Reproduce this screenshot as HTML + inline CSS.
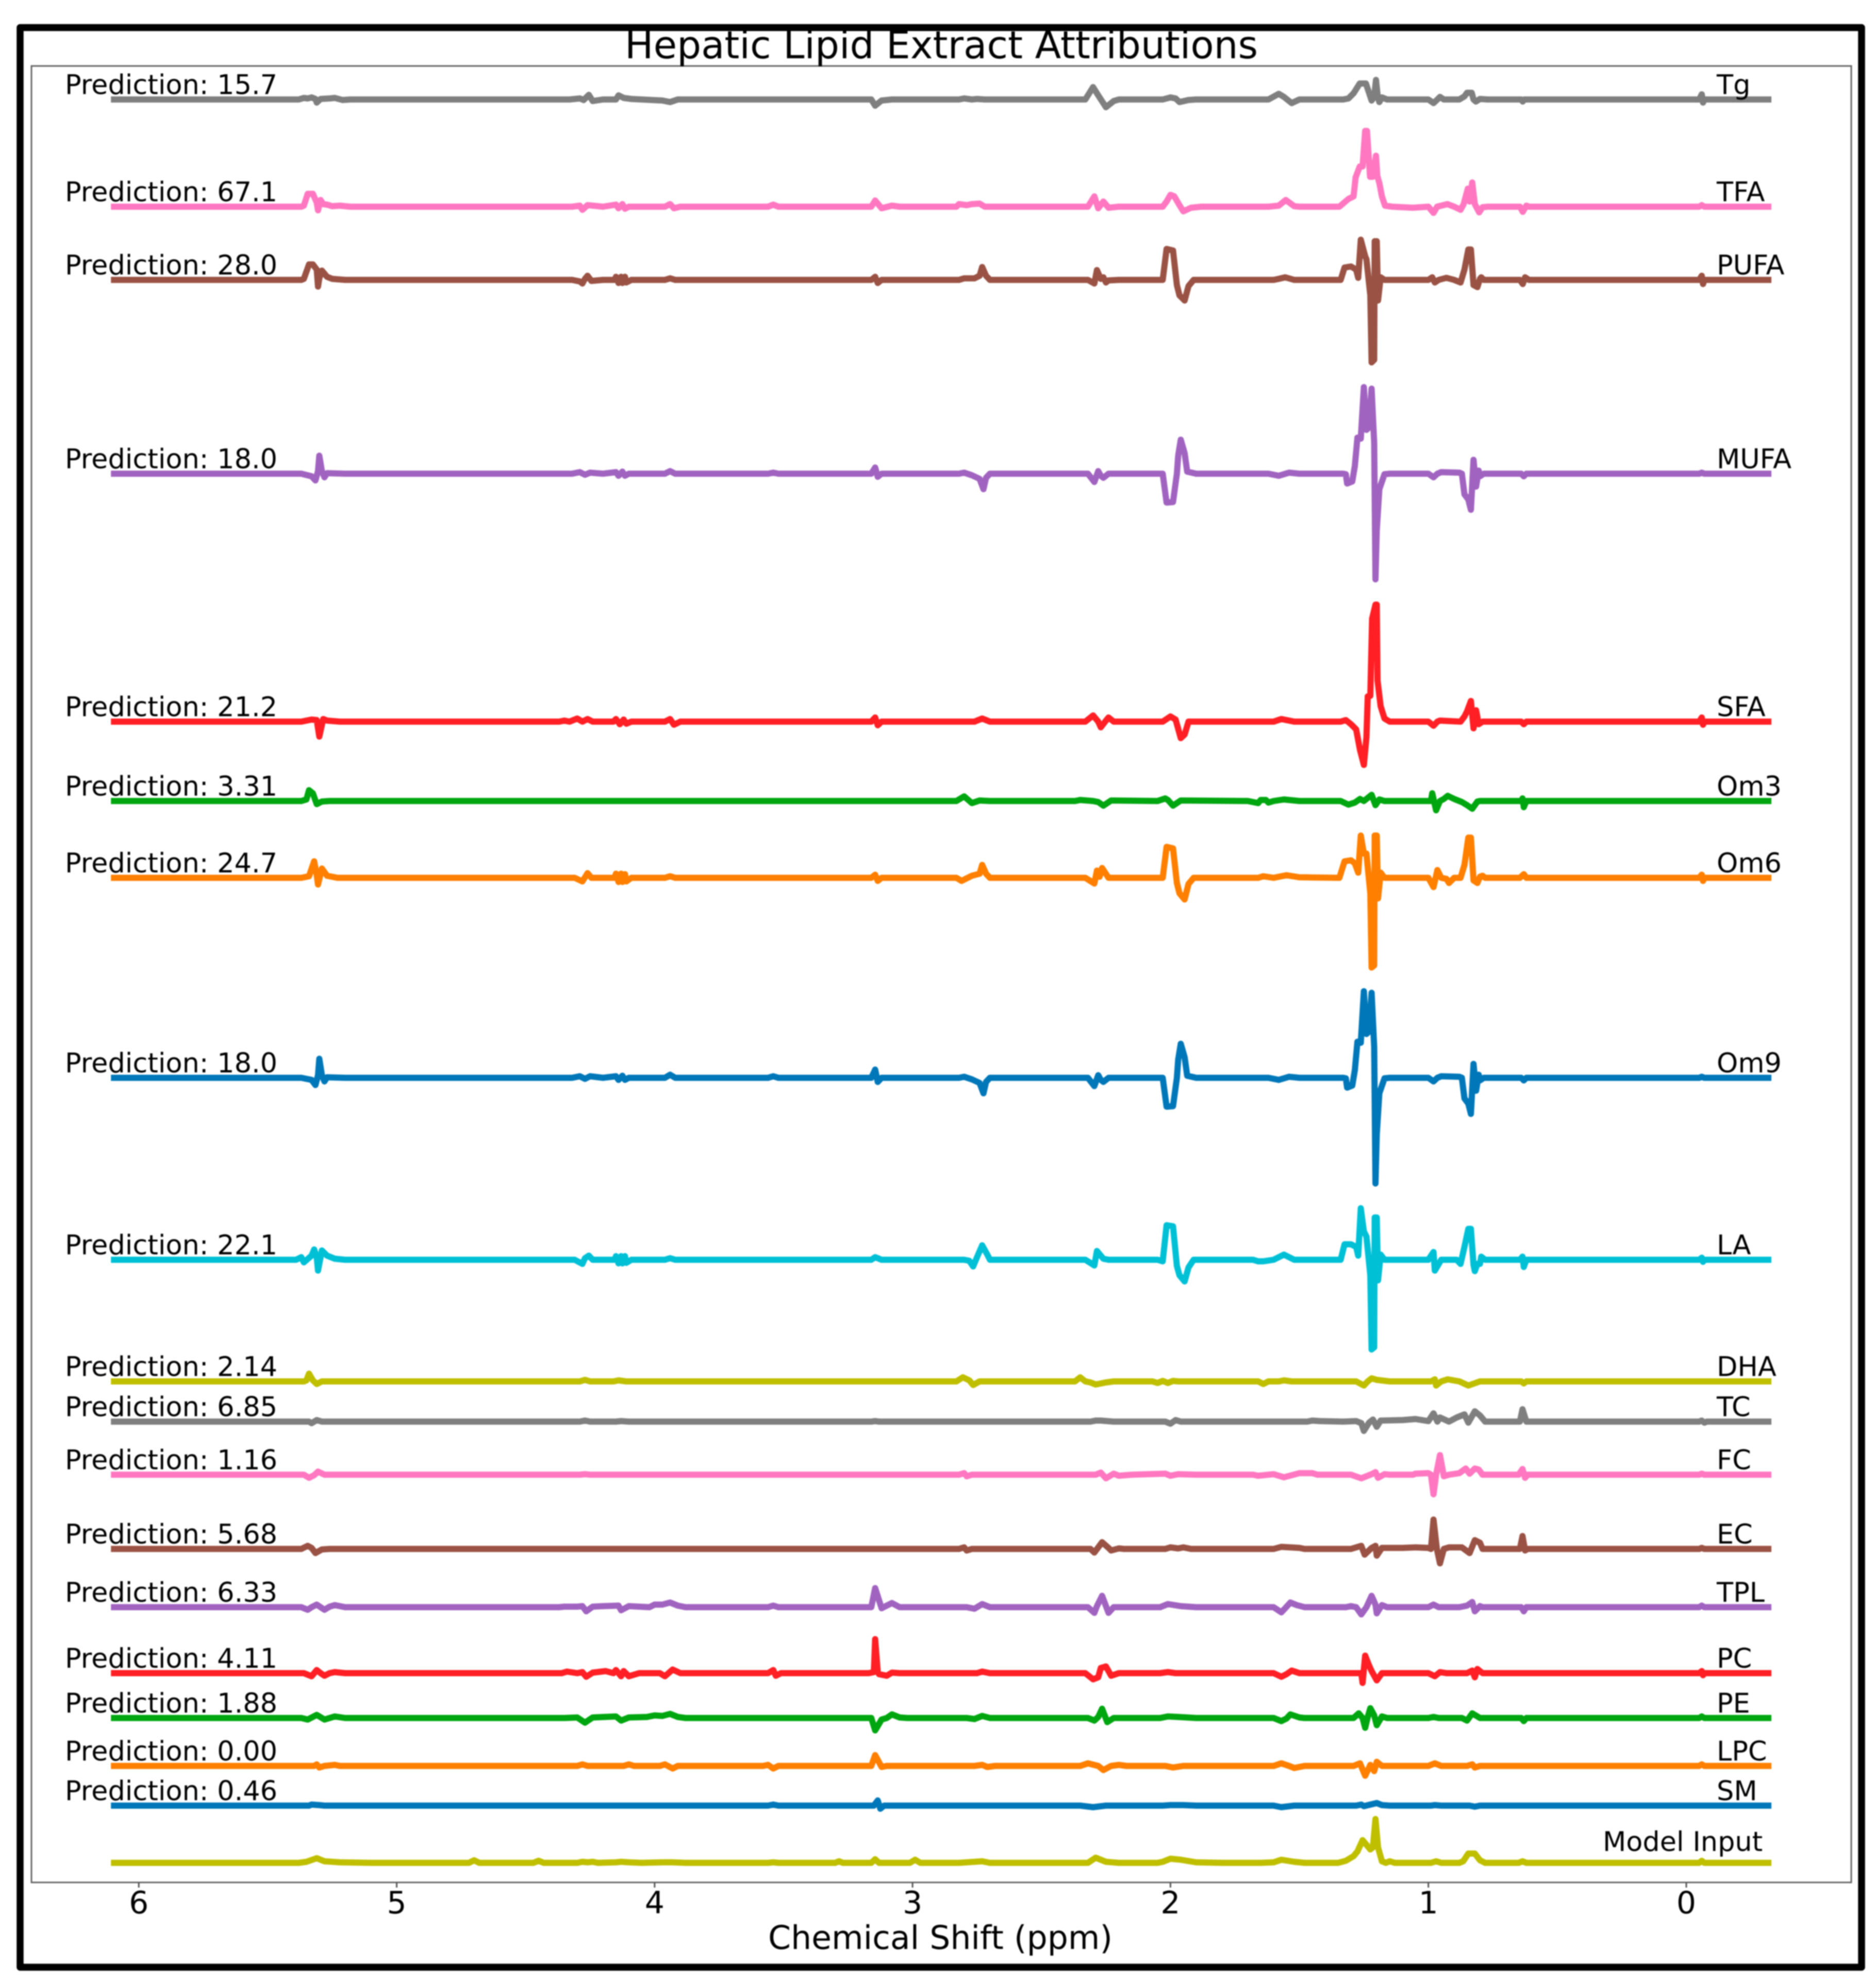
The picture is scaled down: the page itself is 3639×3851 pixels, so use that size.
<!DOCTYPE html>
<html lang="en">
<head>
<meta charset="utf-8">
<title>Hepatic Lipid Extract Attributions</title>
<style>
html,body{margin:0;padding:0;background:#fff;}
svg{display:block;filter:blur(1px);}
text{font-family:"DejaVu Sans","Liberation Sans",sans-serif;fill:#000;}
</style>
</head>
<body>
<svg id="chart" xmlns="http://www.w3.org/2000/svg" width="3639" height="3851" viewBox="0 0 3639 3851">
<rect x="0" y="0" width="3639" height="3851" fill="#ffffff"/>
<rect x="39" y="53.5" width="3572" height="3763" fill="none" stroke="#000" stroke-width="13.5" stroke-linejoin="round"/>
<rect x="61" y="128" width="3530" height="3524" fill="none" stroke="#666" stroke-width="3"/>
<g id="ticks"></g>
<g id="series"></g>
<g id="labels"></g>
<text x="1826" y="113" font-size="74" text-anchor="middle">Hepatic Lipid Extract Attributions</text>
<text x="1824" y="3781" font-size="63.2" text-anchor="middle">Chemical Shift (ppm)</text>
</svg>
<script>
const tickValues=[6,5,4,3,2,1,0];
const tickLabels=['6','5','4','3','2','1','0'];
const categories=['Tg','TFA','PUFA','MUFA','SFA','Om3','Om6','Om9','LA','DHA','TC','FC','EC','TPL','PC','PE','LPC','SM','Model Input'];
const predictions=['15.7','67.1','28.0','18.0','21.2','3.31','24.7','18.0','22.1','2.14','6.85','1.16','5.68','6.33','4.11','1.88','0.00','0.46',''];
const stackOffsets=[3459,3251,3109,2733,2252,2098,1949,1561,1208,972,894,791,647,534,406,319,226,149,38];
const seriesColors=['#7f7f7f','#ff77c0','#9a5244','#a163c0','#ff1f24','#00a60f','#ff7f00','#0077b8','#00c0d6','#bfbf00','#7f7f7f','#ff77c0','#9a5244','#a163c0','#ff1f24','#00a60f','#ff7f00','#0077b8','#bfbf00'];

const Tg=[[6.108,0],[5.38,0],[5.36,3],[5.345,2],[5.33,4],[5.315,1],[5.31,-6],[5.295,1],[5.26,2],[5.24,3],[5.21,-1],[5.18,0],[4.33,0],[4.29,2],[4.275,-1],[4.255,9],[4.24,-3],[4.2,0],[4.15,0],[4.14,8],[4.12,3],[4.09,1],[4.05,0],[3.97,-2],[3.94,-5],[3.91,0],[3.16,0],[3.145,-12],[3.12,-2],[3.08,0],[2.82,0],[2.8,2],[2.77,0],[2.75,1],[2.72,0],[2.33,0],[2.3,24],[2.28,8],[2.25,-15],[2.22,-3],[2.2,0],[2.03,0],[2,4],[1.98,2],[1.965,-5],[1.93,-1],[1.9,0],[1.62,0],[1.58,11],[1.56,5],[1.53,-7],[1.5,0],[1.33,0],[1.31,2],[1.29,12],[1.266,31],[1.242,31],[1.22,-2],[1.21,5],[1.203,38],[1.196,5],[1.19,-5],[1.18,4],[1.16,0],[1,0],[.98,-7],[.965,0],[.955,5],[.94,0],[.88,0],[.86,6],[.85,13],[.832,13],[.825,0],[.816,-4],[.8,1],[.77,0],[.64,0],[.634,-4],[.628,0],[-.05,0],[-.06,10],[-.065,-6],[-.07,0],[-.33,0]];
const TFA=[[6.108,0],[5.37,0],[5.36,2],[5.345,25],[5.325,25],[5.31,8],[5.305,-7],[5.295,13],[5.285,5],[5.27,4],[5.25,1],[5.22,2],[5.18,0],[4.32,0],[4.29,2],[4.28,-6],[4.26,3],[4.2,0],[4.15,4],[4.14,-3],[4.125,5],[4.115,-4],[4.1,0],[3.96,0],[3.94,5],[3.925,-3],[3.9,0],[3.56,0],[3.54,4],[3.52,0],[3.16,0],[3.145,12],[3.12,-3],[3.08,2],[3.05,0],[2.83,0],[2.82,5],[2.79,3],[2.77,5],[2.74,6],[2.72,0],[2.32,0],[2.295,20],[2.28,-3],[2.26,10],[2.24,-2],[2.2,0],[2.03,0],[2.015,10],[2,23],[1.985,20],[1.965,3],[1.95,-9],[1.92,-2],[1.88,0],[1.62,0],[1.58,2],[1.553,13],[1.52,1],[1.5,0],[1.345,0],[1.31,15],[1.29,20],[1.282,57],[1.266,78],[1.255,78],[1.245,147],[1.238,147],[1.226,58],[1.215,58],[1.203,99],[1.198,60],[1.19,46],[1.18,20],[1.168,2],[1.14,0],[1.06,-2],[1,0],[.98,-12],[.966,0],[.926,5],[.9,0],[.875,-6],[.863,5],[.847,35],[.84,10],[.83,47],[.82,5],[.803,-11],[.79,-1],[.77,0],[.645,0],[.634,-10],[.62,2],[.61,0],[-.05,0],[-.06,3],[-.07,0],[-.33,0]];
const PUFA=[[6.108,0],[5.37,0],[5.36,2],[5.34,30],[5.325,30],[5.31,20],[5.305,-13],[5.3,3],[5.29,18],[5.27,6],[5.25,2],[5.2,0],[4.32,0],[4.29,-3],[4.28,-7],[4.27,2],[4.26,8],[4.245,-2],[4.2,0],[4.155,0],[4.15,6],[4.14,-6],[4.13,6],[4.125,-6],[4.115,6],[4.11,-5],[4.09,0],[3.96,0],[3.94,3],[3.92,0],[3.16,0],[3.145,6],[3.135,-6],[3.12,0],[2.82,0],[2.8,3],[2.76,3],[2.74,8],[2.73,25],[2.715,8],[2.7,0],[2.32,0],[2.295,-7],[2.285,19],[2.27,2],[2.26,5],[2.25,-5],[2.24,-1],[2.2,0],[2.03,0],[2.015,60],[1.99,57],[1.975,-10],[1.965,-30],[1.945,-40],[1.93,-12],[1.91,0],[1.6,0],[1.58,2],[1.555,5],[1.52,0],[1.34,0],[1.325,24],[1.3,26],[1.28,20],[1.272,4],[1.262,78],[1.245,46],[1.24,40],[1.225,-30],[1.22,-160],[1.21,-155],[1.208,75],[1.2,75],[1.195,-40],[1.185,5],[1.17,0],[1,0],[.985,5],[.975,-5],[.96,0],[.93,4],[.9,0],[.875,-5],[.86,20],[.845,59],[.835,59],[.825,-10],[.81,-14],[.8,2],[.795,5],[.785,0],[.645,0],[.634,-8],[.625,5],[.61,0],[-.05,0],[-.06,8],[-.065,-8],[-.07,0],[-.33,0]];
const MUFA=[[6.108,0],[5.37,0],[5.33,-5],[5.315,-13],[5.305,5],[5.3,35],[5.29,5],[5.28,-7],[5.27,1],[5.2,0],[4.32,0],[4.29,3],[4.27,-2],[4.25,2],[4.2,0],[4.15,3],[4.14,-4],[4.125,4],[4.115,-4],[4.1,0],[3.96,0],[3.94,5],[3.92,0],[3.56,0],[3.54,2],[3.52,0],[3.16,0],[3.145,12],[3.135,-6],[3.12,0],[2.82,0],[2.8,2],[2.77,-3],[2.74,-10],[2.725,-30],[2.715,-8],[2.7,0],[2.32,0],[2.295,-16],[2.28,5],[2.27,-4],[2.26,-8],[2.24,0],[2.05,0],[2.03,0],[2.015,-56],[1.99,-55],[1.975,0],[1.97,35],[1.96,66],[1.945,40],[1.935,4],[1.9,0],[1.62,0],[1.58,-4],[1.54,2],[1.5,0],[1.33,0],[1.32,-1],[1.315,-19],[1.295,-15],[1.285,15],[1.275,70],[1.262,68],[1.25,168],[1.24,85],[1.23,90],[1.22,165],[1.21,60],[1.205,-205],[1.2,-110],[1.19,-30],[1.17,-1],[1.15,0],[1,0],[.98,-7],[.965,0],[.95,3],[.88,2],[.87,0],[.86,-40],[.845,-50],[.835,-70],[.825,27],[.815,-25],[.805,6],[.8,-5],[.785,0],[.64,0],[.63,-5],[.62,0],[-.05,0],[-.06,2],[-.07,0],[-.33,0]];
const SFA=[[6.108,0],[5.37,0],[5.33,4],[5.31,3],[5.3,-29],[5.285,5],[5.27,2],[5.22,0],[4.37,0],[4.35,2],[4.33,0],[4.3,6],[4.28,0],[4.26,5],[4.24,0],[4.16,0],[4.15,5],[4.135,-5],[4.12,4],[4.11,-4],[4.09,0],[3.96,0],[3.94,5],[3.925,-6],[3.9,0],[3.16,0],[3.145,8],[3.135,-7],[3.12,0],[2.76,0],[2.73,6],[2.7,0],[2.33,0],[2.3,12],[2.28,0],[2.27,-11],[2.25,2],[2.24,8],[2.22,0],[2.03,0],[2,10],[1.98,4],[1.96,-32],[1.945,-25],[1.93,0],[1.6,0],[1.57,5],[1.52,0],[1.34,0],[1.32,3],[1.3,-5],[1.28,-15],[1.265,-55],[1.25,-84],[1.24,-30],[1.235,49],[1.225,50],[1.218,200],[1.205,227],[1.2,227],[1.197,80],[1.185,30],[1.17,6],[1.15,0],[1,0],[.98,-8],[.965,0],[.955,2],[.875,0],[.86,10],[.85,20],[.835,40],[.825,-13],[.815,22],[.805,-5],[.79,0],[.64,0],[.63,-5],[.62,0],[-.05,0],[-.06,8],[-.065,-6],[-.07,0],[-.33,0]];
const Om3=[[6.108,0],[5.37,0],[5.35,3],[5.34,21],[5.325,15],[5.31,-6],[5.29,-1],[5.26,0],[2.83,0],[2.8,9],[2.77,-4],[2.74,1],[2.7,0],[2.37,0],[2.35,2],[2.3,0],[2.28,-2],[2.26,-9],[2.23,1],[2.05,0],[2.02,5],[2.01,2],[1.99,-9],[1.96,1],[1.7,0],[1.66,-4],[1.65,2],[1.63,2],[1.62,-3],[1.6,0],[1.56,3],[1.5,0],[1.34,0],[1.31,-7],[1.285,-3],[1.265,4],[1.25,0],[1.22,12],[1.205,-8],[1.19,3],[1.17,0],[.99,0],[.985,15],[.97,-18],[.955,0],[.94,4],[.925,10],[.9,4],[.87,-2],[.85,-8],[.83,-15],[.81,-1],[.8,0],[.64,0],[.635,5],[.63,-12],[.62,0],[-.33,0]];
const Om6=[[6.108,0],[5.37,0],[5.34,3],[5.32,32],[5.31,5],[5.305,-13],[5.29,18],[5.27,4],[5.23,0],[4.31,0],[4.28,-7],[4.26,9],[4.245,0],[4.2,0],[4.155,0],[4.15,8],[4.14,-8],[4.13,8],[4.125,-8],[4.115,7],[4.11,-7],[4.09,0],[3.96,0],[3.94,3],[3.92,0],[3.16,0],[3.145,6],[3.135,-6],[3.12,0],[2.83,0],[2.81,-6],[2.77,4],[2.74,8],[2.73,25],[2.715,8],[2.7,0],[2.33,0],[2.295,-11],[2.285,14],[2.275,2],[2.265,19],[2.24,0],[2.03,0],[2.015,60],[1.99,57],[1.975,-10],[1.965,-30],[1.945,-42],[1.93,-12],[1.91,0],[1.66,0],[1.64,3],[1.6,0],[1.55,5],[1.5,1],[1.345,0],[1.325,32],[1.3,34],[1.285,28],[1.272,10],[1.262,82],[1.25,47],[1.24,47],[1.225,-30],[1.22,-174],[1.21,-170],[1.208,82],[1.2,82],[1.195,-40],[1.185,10],[1.17,0],[1,0],[.98,-18],[.965,15],[.95,0],[.93,-2],[.92,-10],[.9,0],[.875,0],[.86,25],[.845,78],[.835,78],[.825,-5],[.81,-10],[.8,2],[.79,4],[.78,0],[.645,0],[.63,7],[.62,0],[-.05,0],[-.06,6],[-.065,-6],[-.07,0],[-.33,0]];
const Om9=[[6.108,0],[5.37,0],[5.33,-4],[5.315,-14],[5.305,5],[5.3,37],[5.29,5],[5.28,-7],[5.27,1],[5.2,0],[4.32,0],[4.29,3],[4.27,-2],[4.25,3],[4.2,0],[4.15,3],[4.14,-4],[4.125,4],[4.115,-4],[4.1,0],[3.96,0],[3.94,6],[3.92,0],[3.56,0],[3.54,3],[3.52,0],[3.16,0],[3.145,16],[3.135,-8],[3.12,0],[2.82,0],[2.8,2],[2.77,-3],[2.74,-10],[2.725,-30],[2.715,-8],[2.7,0],[2.32,0],[2.295,-16],[2.28,5],[2.27,-4],[2.26,-8],[2.24,0],[2.03,0],[2.015,-56],[1.99,-55],[1.975,0],[1.97,35],[1.96,66],[1.945,40],[1.935,4],[1.9,0],[1.62,0],[1.58,-4],[1.54,2],[1.5,0],[1.33,0],[1.32,-1],[1.315,-19],[1.295,-15],[1.285,15],[1.275,70],[1.262,68],[1.25,168],[1.24,85],[1.23,90],[1.22,165],[1.21,60],[1.205,-205],[1.2,-110],[1.19,-30],[1.17,-1],[1.15,0],[1,0],[.98,-7],[.965,0],[.95,3],[.88,2],[.87,0],[.86,-40],[.845,-50],[.835,-70],[.825,27],[.815,-25],[.805,6],[.8,-5],[.785,0],[.64,0],[.63,-5],[.62,0],[-.05,0],[-.06,2],[-.07,0],[-.33,0]];
const LA=[[6.108,0],[5.39,0],[5.37,5],[5.36,-5],[5.33,8],[5.32,20],[5.31,5],[5.305,-21],[5.29,18],[5.27,8],[5.24,2],[5.2,0],[4.31,0],[4.28,-8],[4.27,3],[4.255,8],[4.24,0],[4.155,0],[4.15,7],[4.14,-7],[4.13,7],[4.125,-7],[4.115,7],[4.11,-6],[4.09,0],[3.96,0],[3.94,3],[3.92,0],[3.16,0],[3.145,5],[3.12,0],[2.8,0],[2.78,-2],[2.765,-13],[2.75,5],[2.73,28],[2.71,10],[2.7,0],[2.33,0],[2.295,-11],[2.285,17],[2.26,2],[2.24,0],[2.05,0],[2.03,-3],[2.015,67],[1.99,65],[1.975,-12],[1.965,-30],[1.945,-42],[1.93,-15],[1.91,0],[1.68,0],[1.66,-3],[1.64,-3],[1.6,0],[1.56,10],[1.52,0],[1.34,0],[1.325,30],[1.3,30],[1.28,25],[1.272,8],[1.262,100],[1.25,55],[1.24,45],[1.225,-30],[1.22,-174],[1.21,-170],[1.208,82],[1.2,82],[1.195,-40],[1.185,10],[1.17,0],[1,0],[.98,15],[.975,-21],[.95,0],[.89,0],[.875,-8],[.86,25],[.845,60],[.835,60],[.825,-10],[.82,-22],[.81,-8],[.8,-8],[.795,6],[.78,0],[.645,0],[.635,6],[.63,-14],[.62,0],[-.05,0],[-.06,4],[-.065,-4],[-.07,0],[-.33,0]];
const DHA=[[6.108,0],[5.36,0],[5.35,2],[5.34,15],[5.325,2],[5.31,-5],[5.29,0],[4.29,0],[4.27,3],[4.25,0],[4.16,0],[4.14,2],[4.11,0],[2.83,0],[2.805,8],[2.78,2],[2.765,-7],[2.74,0],[2.37,0],[2.35,8],[2.33,0],[2.31,-2],[2.29,-6],[2.25,-2],[2.22,0],[2.07,0],[2.05,-3],[2.03,1],[2.01,-3],[1.99,1],[1.97,0],[1.66,0],[1.64,-5],[1.62,0],[1.58,0],[1.56,2],[1.53,0],[1.28,0],[1.25,-8],[1.235,0],[1.22,6],[1.2,3],[1.15,0],[.99,0],[.975,4],[.97,-8],[.95,0],[.925,4],[.88,0],[.845,-8],[.8,0],[.64,0],[.63,-4],[.62,0],[-.33,0]];
const TC=[[6.108,0],[5.34,0],[5.33,-3],[5.31,3],[5.29,0],[4.29,0],[4.27,2],[4.25,0],[4.15,0],[4.13,1],[4.1,0],[3.16,0],[3.145,1],[3.13,0],[2.31,0],[2.29,2],[2.27,2],[2.22,0],[2.02,0],[2,-4],[1.98,3],[1.96,0],[1.6,0],[1.47,0],[1.45,2],[1.42,1],[1.33,0],[1.28,1],[1.26,-3],[1.25,-18],[1.23,-2],[1.215,4],[1.2,-10],[1.185,2],[1.1,3],[1.05,5],[1,1],[.98,16],[.965,0],[.955,8],[.92,0],[.89,8],[.86,14],[.845,-2],[.82,20],[.8,12],[.78,0],[.645,0],[.635,24],[.62,0],[-.05,0],[-.06,2],[-.07,-2],[-.08,0],[-.33,0]];
const FC=[[6.108,0],[5.36,0],[5.34,-6],[5.32,-1],[5.305,6],[5.28,0],[4.29,0],[4.27,1],[4.25,0],[2.82,0],[2.8,3],[2.79,-3],[2.77,0],[2.29,0],[2.27,4],[2.25,-7],[2.22,2],[2.2,-2],[2.15,0],[2.02,2],[2,-2],[1.97,1],[1.9,0],[1.68,0],[1.66,-2],[1.6,1],[1.56,-5],[1.5,3],[1.45,3],[1.43,0],[1.3,0],[1.26,-7],[1.22,1],[1.205,5],[1.195,-6],[1.17,1],[1.15,0],[1.06,0],[1.05,2],[1,3],[.99,0],[.98,-38],[.97,0],[.955,38],[.94,-3],[.92,0],[.88,3],[.855,12],[.84,2],[.82,12],[.805,10],[.79,0],[.65,0],[.635,11],[.625,-6],[.615,0],[-.05,0],[-.06,2],[-.07,0],[-.33,0]];
const EC=[[6.108,0],[5.37,0],[5.345,6],[5.33,2],[5.315,-8],[5.29,-1],[5.26,0],[2.82,0],[2.8,3],[2.79,-3],[2.77,0],[2.31,0],[2.295,-7],[2.265,13],[2.24,2],[2.23,-3],[2.2,1],[2.18,0],[2.02,0],[2,3],[1.97,1],[1.95,3],[1.92,0],[1.75,0],[1.6,0],[1.57,4],[1.5,2],[1.48,0],[1.3,0],[1.26,6],[1.247,-11],[1.22,2],[1.205,6],[1.2,-13],[1.18,2],[1.1,2],[1.05,3],[1,2],[.99,0],[.98,57],[.967,0],[.955,-28],[.94,0],[.92,3],[.87,3],[.84,-8],[.82,17],[.8,12],[.79,0],[.645,0],[.635,25],[.625,-3],[.615,0],[-.05,0],[-.06,2],[-.07,0],[-.33,0]];
const TPL=[[6.108,0],[5.37,0],[5.345,-5],[5.33,0],[5.31,5],[5.28,-5],[5.26,1],[5.24,4],[5.2,0],[4.37,0],[4.35,1],[4.3,1],[4.28,2],[4.265,-8],[4.24,1],[4.2,2],[4.14,3],[4.13,-6],[4.1,2],[4.02,0],[4,5],[3.97,5],[3.94,9],[3.91,3],[3.88,0],[3.56,0],[3.54,3],[3.52,0],[3.16,0],[3.145,37],[3.12,-2],[3.08,8],[3.05,0],[2.79,0],[2.76,-3],[2.73,6],[2.7,0],[2.32,0],[2.295,-11],[2.285,2],[2.265,22],[2.24,-11],[2.22,0],[2.04,0],[2.01,6],[1.96,2],[1.9,0],[1.6,0],[1.57,-10],[1.555,-2],[1.535,9],[1.51,4],[1.48,0],[1.32,0],[1.3,2],[1.28,0],[1.26,-14],[1.24,0],[1.22,22],[1.205,5],[1.2,-12],[1.18,4],[1.16,0],[1,0],[.98,5],[.96,0],[.88,0],[.85,3],[.83,10],[.82,-8],[.8,2],[.79,0],[.64,0],[.63,-8],[.62,0],[-.05,0],[-.06,3],[-.07,0],[-.33,0]];
const PC=[[6.108,0],[5.36,0],[5.33,-6],[5.31,6],[5.295,0],[5.28,-5],[5.26,0],[5.24,2],[5.2,0],[4.36,0],[4.34,3],[4.3,0],[4.28,2],[4.265,-7],[4.24,1],[4.19,4],[4.16,0],[4.15,6],[4.13,-6],[4.12,4],[4.1,-6],[4.06,0],[3.98,0],[3.96,-6],[3.93,7],[3.9,0],[3.56,0],[3.54,6],[3.53,-5],[3.51,0],[3.17,0],[3.15,2],[3.145,66],[3.135,2],[3.13,-2],[3.1,-5],[3.08,1],[3.05,0],[2.75,0],[2.73,3],[2.7,0],[2.33,0],[2.3,-12],[2.28,-8],[2.27,10],[2.25,13],[2.23,-5],[2.2,0],[2.04,0],[2.01,2],[1.98,0],[1.6,0],[1.57,-7],[1.55,-2],[1.53,5],[1.5,0],[1.28,0],[1.26,0],[1.255,-19],[1.245,34],[1.23,15],[1.22,4],[1.2,-14],[1.18,0],[1,0],[.975,-6],[.955,2],[.93,0],[.85,0],[.83,5],[.82,-8],[.81,8],[.79,0],[-.05,0],[-.06,4],[-.065,-4],[-.07,0],[-.33,0]];
const PE=[[6.108,0],[5.37,0],[5.345,-3],[5.31,6],[5.28,-3],[5.24,3],[5.2,0],[4.35,0],[4.3,1],[4.27,-9],[4.24,1],[4.15,3],[4.13,-5],[4.1,1],[4.03,2],[4,5],[3.97,4],[3.94,8],[3.91,2],[3.88,0],[3.16,0],[3.145,-24],[3.12,-3],[3.1,0],[3.08,7],[3.05,1],[3.02,0],[2.79,0],[2.76,-2],[2.73,4],[2.7,0],[2.32,0],[2.295,-5],[2.28,2],[2.265,18],[2.245,-8],[2.22,0],[2.04,0],[2.01,3],[1.97,2],[1.9,0],[1.6,0],[1.57,-6],[1.55,-1],[1.535,7],[1.5,1],[1.48,0],[1.29,0],[1.27,9],[1.255,0],[1.245,-19],[1.235,2],[1.225,19],[1.21,5],[1.2,-14],[1.18,3],[1.16,0],[1,0],[.98,2],[.96,0],[.87,0],[.85,-5],[.83,9],[.8,0],[.64,0],[.63,-6],[.62,0],[-.05,0],[-.06,3],[-.07,0],[-.33,0]];
const LPC=[[6.108,0],[5.32,0],[5.31,3],[5.3,-3],[5.28,0],[5.24,2],[5.22,0],[4.3,0],[4.28,3],[4.26,0],[4.12,0],[4.1,3],[4.08,0],[3.98,0],[3.96,3],[3.93,-5],[3.91,0],[3.58,0],[3.56,2],[3.54,-5],[3.52,0],[3.16,0],[3.145,21],[3.12,-2],[3.1,0],[2.76,0],[2.73,2],[2.71,-2],[2.68,0],[2.35,0],[2.32,5],[2.28,0],[2.26,-8],[2.23,0],[2.2,2],[2.17,0],[2.02,0],[1.99,-3],[1.95,0],[1.6,0],[1.57,5],[1.54,0],[1.52,-4],[1.48,0],[1.29,0],[1.265,5],[1.245,-19],[1.225,2],[1.21,-10],[1.2,8],[1.18,0],[1,0],[.975,5],[.95,0],[.85,0],[.83,3],[.82,-3],[.8,0],[-.05,0],[-.06,3],[-.07,0],[-.33,0]];
const SM=[[6.108,0],[5.34,0],[5.33,2],[5.3,1],[5.28,0],[3.56,0],[3.54,2],[3.52,0],[3.15,0],[3.135,10],[3.125,-6],[3.11,0],[2.35,0],[2.3,-3],[2.25,0],[2.03,0],[2,1],[1.95,1],[1.9,0],[1.6,0],[1.57,-3],[1.52,0],[1.28,0],[1.26,2],[1.25,-1],[1.2,5],[1.18,1],[1.15,0],[.99,0],[.975,1],[.95,0],[.84,0],[.82,-2],[.8,0],[-.33,0]];
const ModelInput=[[6.108,0],[5.38,0],[5.35,2],[5.31,9],[5.28,3],[5.22,1],[5.1,0],[4.72,0],[4.7,5],[4.68,0],[4.47,0],[4.45,4],[4.43,0],[4.3,0],[4.28,2],[4.26,1],[4.24,2],[4.22,0],[4.15,1],[4.13,2],[4.1,1],[4.05,0],[3.97,1],[3.93,1],[3.88,0],[3.56,0],[3.54,1],[3.52,0],[3.3,0],[3.285,3],[3.27,0],[3.16,0],[3.145,7],[3.13,0],[3.01,0],[2.99,6],[2.97,0],[2.82,0],[2.76,2],[2.73,3],[2.7,0],[2.32,0],[2.29,10],[2.25,2],[2.2,0],[2.05,0],[2.03,2],[2,8],[1.96,6],[1.9,1],[1.8,0],[1.65,0],[1.6,1],[1.57,6],[1.52,2],[1.48,0],[1.35,0],[1.32,4],[1.29,13],[1.275,22],[1.255,44],[1.225,26],[1.215,30],[1.205,85],[1.195,30],[1.18,3],[1.165,0],[1.15,3],[1.13,0],[.99,0],[.97,3],[.95,0],[.88,0],[.865,3],[.845,18],[.82,18],[.8,5],[.78,0],[.65,0],[.635,3],[.62,0],[-.05,0],[-.06,4],[-.07,0],[-.33,0]];

const seriesValues=[Tg,TFA,PUFA,MUFA,SFA,Om3,Om6,Om9,LA,DHA,TC,FC,EC,TPL,PC,PE,LPC,SM,ModelInput];

const SVGNS='http://www.w3.org/2000/svg';
const xAxis=function(ppm){return 3271-500.3*ppm;};
const yAxis=function(v){return 3652-v;};
const slug=function(s){return s.toLowerCase().replace(/\s+/g,'-');};

const tickGroup=document.getElementById('ticks');
tickValues.forEach(function(t,i){
  const line=document.createElementNS(SVGNS,'line');
  line.setAttribute('x1',xAxis(t));
  line.setAttribute('x2',xAxis(t));
  line.setAttribute('y1',3652);
  line.setAttribute('y2',3662);
  line.setAttribute('stroke','#555');
  line.setAttribute('stroke-width',3);
  
  
  tickGroup.appendChild(line);
  const label=document.createElementNS(SVGNS,'text');
  label.setAttribute('x',xAxis(t));
  label.setAttribute('y',3712);
  label.setAttribute('font-size',60);
  label.setAttribute('text-anchor','middle');
  label.textContent=tickLabels[i];
  
  
  tickGroup.appendChild(label);
});

const seriesGroup=document.getElementById('series');
const labelGroup=document.getElementById('labels');
categories.forEach(function(name,i){
  const offset=stackOffsets[i];
  const d=seriesValues[i].map(function(p,k){
    return (k?'L':'M')+xAxis(p[0]).toFixed(1)+' '+yAxis(offset+p[1]).toFixed(1);
  }).join('');
  const path=document.createElementNS(SVGNS,'path');
  path.setAttribute('d',d);
  path.setAttribute('fill','none');
  path.setAttribute('stroke',seriesColors[i]);
  path.setAttribute('stroke-width',12);
  path.setAttribute('stroke-linejoin','round');
  path.setAttribute('stroke-linecap','butt');
  
  
  seriesGroup.appendChild(path);

  const isInput=predictions[i]==='';
  const nameLabel=document.createElementNS(SVGNS,'text');
  nameLabel.setAttribute('x',isInput?3109:3330);
  nameLabel.setAttribute('y',yAxis(offset)-(isInput?23:10.5));
  nameLabel.setAttribute('font-size',52.5);
  nameLabel.textContent=name;
  
  
  labelGroup.appendChild(nameLabel);

  if(!isInput){
    const pred=document.createElementNS(SVGNS,'text');
    pred.setAttribute('x',126);
    pred.setAttribute('y',yAxis(offset)-10.5);
    pred.setAttribute('font-size',52.5);
    pred.textContent='Prediction: '+predictions[i];
    
    
    labelGroup.appendChild(pred);
  }
});
</script>
</body>
</html>
